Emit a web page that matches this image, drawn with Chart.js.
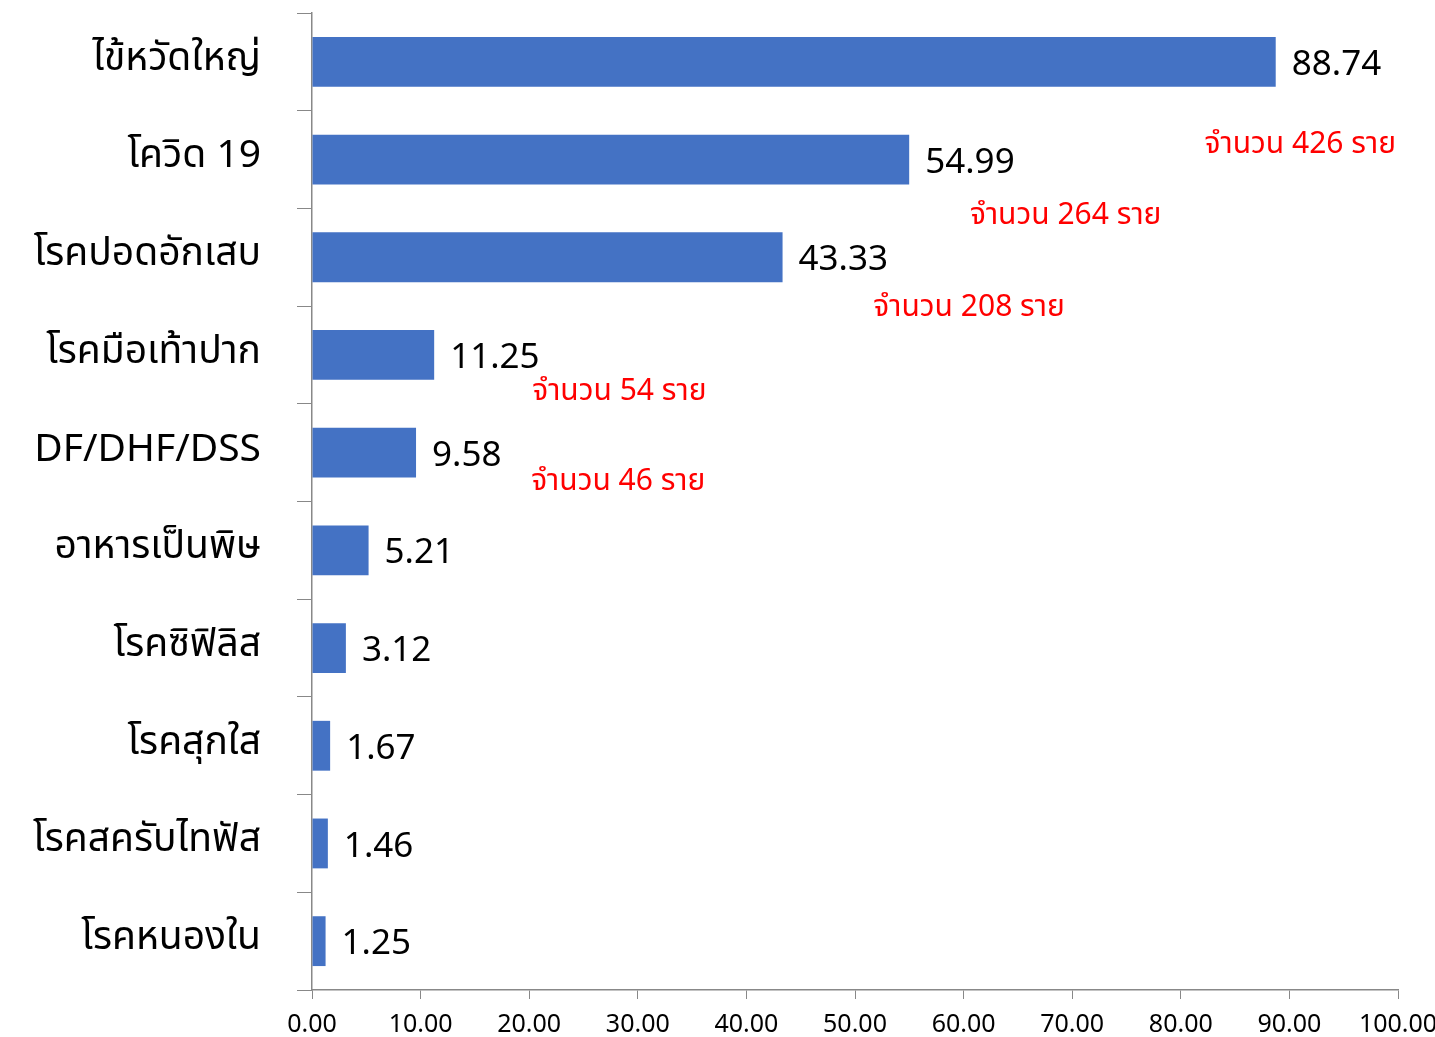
<!DOCTYPE html>
<html>
<head>
<meta charset="utf-8">
<script src="https://cdn.jsdelivr.net/npm/chart.js@4/dist/chart.umd.min.js"></script>
<style>
  html, body { margin:0; padding:0; background:#fff; }
  #wrap { width:1435px; height:1037px; }
</style>
</head>
<body>
<div id="wrap"><canvas id="diseaseChart" width="1435" height="1037"></canvas></div>
<script>
const categories = ['ไข้หวัดใหญ่', 'โควิด 19', 'โรคปอดอักเสบ', 'โรคมือเท้าปาก', 'DF/DHF/DSS',
    'อาหารเป็นพิษ', 'โรคซิฟิลิส', 'โรคสุกใส', 'โรคสครับไทฟัส', 'โรคหนองใน']
const rates = [88.74, 54.99, 43.33, 11.25, 9.58, 5.21, 3.12, 1.67, 1.46, 1.25]
const xTicks = [0, 10, 20, 30, 40, 50, 60, 70, 80, 90, 100]

// red notes: text, x value, category index (fractional)
const noteTexts = ['จำนวน 426 ราย', 'จำนวน 264 ราย', 'จำนวน 208 ราย', 'จำนวน 54 ราย', 'จำนวน 46 ราย']
const noteX = [91.0, 69.4, 60.5, 28.3, 28.2]
const noteY = [0.87, 1.6, 2.54, 3.4, 4.32]

const fontFamily = '"Noto Sans Thai", "Noto Sans", "DejaVu Sans", sans-serif'

const labelsPlugin = {
    id:'labels',
    afterDatasetsDraw(chart) {
        const ctx = chart.ctx
        const meta = chart.getDatasetMeta(0)
        ctx.save()
        ctx.fillStyle = '#000'
        ctx.font = `35px ${fontFamily}`
        ctx.textAlign = 'left'
        ctx.textBaseline = 'middle'
        meta.data.forEach((bar, i) => {
            ctx.fillText(rates[i].toFixed(2), bar.x + 16, bar.y + 6)
        })
        ctx.fillStyle = '#ff0000'
        ctx.font = `30px ${fontFamily}`
        ctx.textAlign = 'center'
        noteTexts.forEach((t, i) => {
            const x = chart.scales.x.getPixelForValue(noteX[i])
            const y = chart.scales.y.getPixelForValue(noteY[i])
            ctx.fillText(t, x, y)
        })
        ctx.restore()
    }
}

new Chart(document.getElementById('diseaseChart'), {
    type:'bar',
    data:{
        labels:categories,
        datasets:[{
            data:rates,
            backgroundColor:'#4472c4',
            categoryPercentage:1,
            barPercentage:0.51
        }]
    },
    options:{
        indexAxis:'y',
        responsive:false,
        animation:false,
        layout:{ padding:{ top:13, right:37, left:0, bottom:0 } },
        plugins:{
            legend:{ display:false },
            tooltip:{ enabled:false }
        },
        scales:{
            x:{
                min:0,
                max:100,
                afterBuildTicks(scale) {
                    scale.ticks = xTicks.map(v => ({ value:v }))
                },
                afterFit(scale) {
                    scale.height = 47
                    scale.paddingLeft = 0
                    scale.paddingRight = 0
                },
                ticks:{
                    color:'#000',
                    font:{ size:25, family:fontFamily },
                    padding:13,
                    maxRotation:0,
                    callback:v => Number(v).toFixed(2)
                },
                grid:{
                    drawOnChartArea:false,
                    drawTicks:true,
                    tickLength:9,
                    color:'#888'
                },
                border:{ color:'#888', width:1.5 }
            },
            y:{
                afterFit(scale) {
                    scale.width = 312
                    scale.paddingTop = 0
                    scale.paddingBottom = 0
                },
                ticks:{
                    color:'#000',
                    font:{ size:39, family:fontFamily },
                    padding:36
                },
                grid:{
                    drawOnChartArea:false,
                    drawTicks:true,
                    tickLength:15,
                    offset:true,
                    color:'#888'
                },
                border:{ color:'#888', width:1.5 }
            }
        }
    },
    plugins:[labelsPlugin]
})
</script>
</body>
</html>
